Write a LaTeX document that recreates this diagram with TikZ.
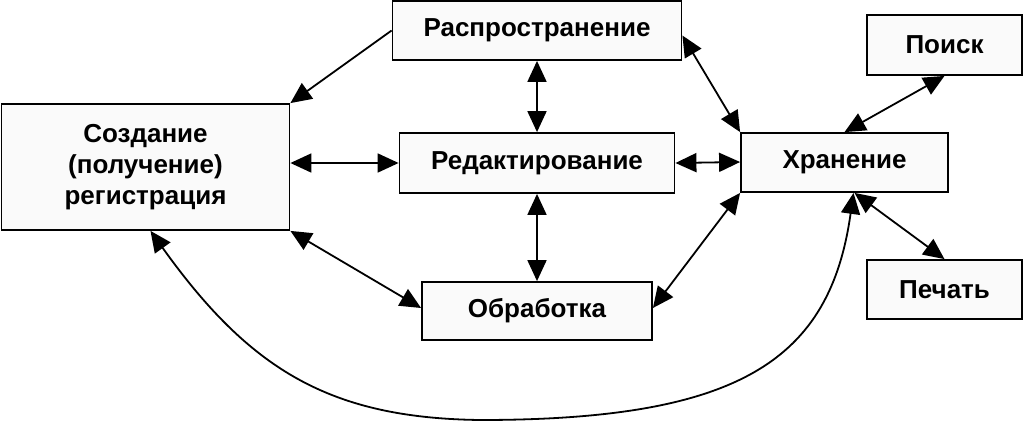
\documentclass[tikz,border=0pt]{standalone}
\usepackage{fontspec}
\setmainfont{Liberation Sans}
\usetikzlibrary{arrows.meta}
\begin{document}
\begin{tikzpicture}[x=1pt,y=-1pt,
  box/.style={draw=black, line width=1.8pt, fill=white!98!black, inner sep=0pt,
    font=\fontsize{26}{31}\selectfont\bfseries, align=center},
  link/.style={line width=1.8pt, {Triangle[length=21pt,width=19pt]}-{Triangle[length=21pt,width=19pt]}},
  onelink/.style={line width=1.8pt, -{Triangle[length=21pt,width=19pt]}}]
\useasboundingbox (0,0) rectangle (1024,429);
\node[box, minimum width=289pt, minimum height=59pt] (R) at (537,30.5) {Распространение};
\node[box, minimum width=288pt, minimum height=126pt] (S) at (145.5,167) {Создание\\(получение)\\регистрация};
\node[box, minimum width=275pt, minimum height=60pt] (E) at (537,163) {Редактирование};
\node[box, minimum width=207pt, minimum height=59pt] (H) at (844.5,162.5) {Хранение};
\node[box, minimum width=155pt, minimum height=60pt] (P) at (944.5,45) {Поиск};
\node[box, minimum width=155pt, minimum height=59pt] (Pe) at (944.5,289.5) {Печать};
\node[box, minimum width=230pt, minimum height=58pt] (O) at (537,311) {Обработка};
\draw[onelink] (R.west) -- (S.north east);
\draw[link] ([yshift=-5pt]R.east) -- (H.north west);
\draw[link] (R.south) -- (E.north);
\draw[link] ([yshift=4pt]S.east) -- (E.west);
\draw[link] (E.east) -- ([yshift=0.5pt]H.west);
\draw[link] (E.south) -- (O.north);
\draw[link] (S.south east) -- ([yshift=3pt]O.west);
\draw[link] ([yshift=3pt]O.east) -- (H.south west);
\draw[link] (H.north) -- (P.south);
\draw[link] ([xshift=10pt]H.south) -- (Pe.north);
\draw[link] ([xshift=5pt]S.south) .. controls (250,370) and (330,418) .. (480,420)
  .. controls (740,420) and (830,360) .. ([xshift=9pt]H.south);
\end{tikzpicture}
\end{document}
